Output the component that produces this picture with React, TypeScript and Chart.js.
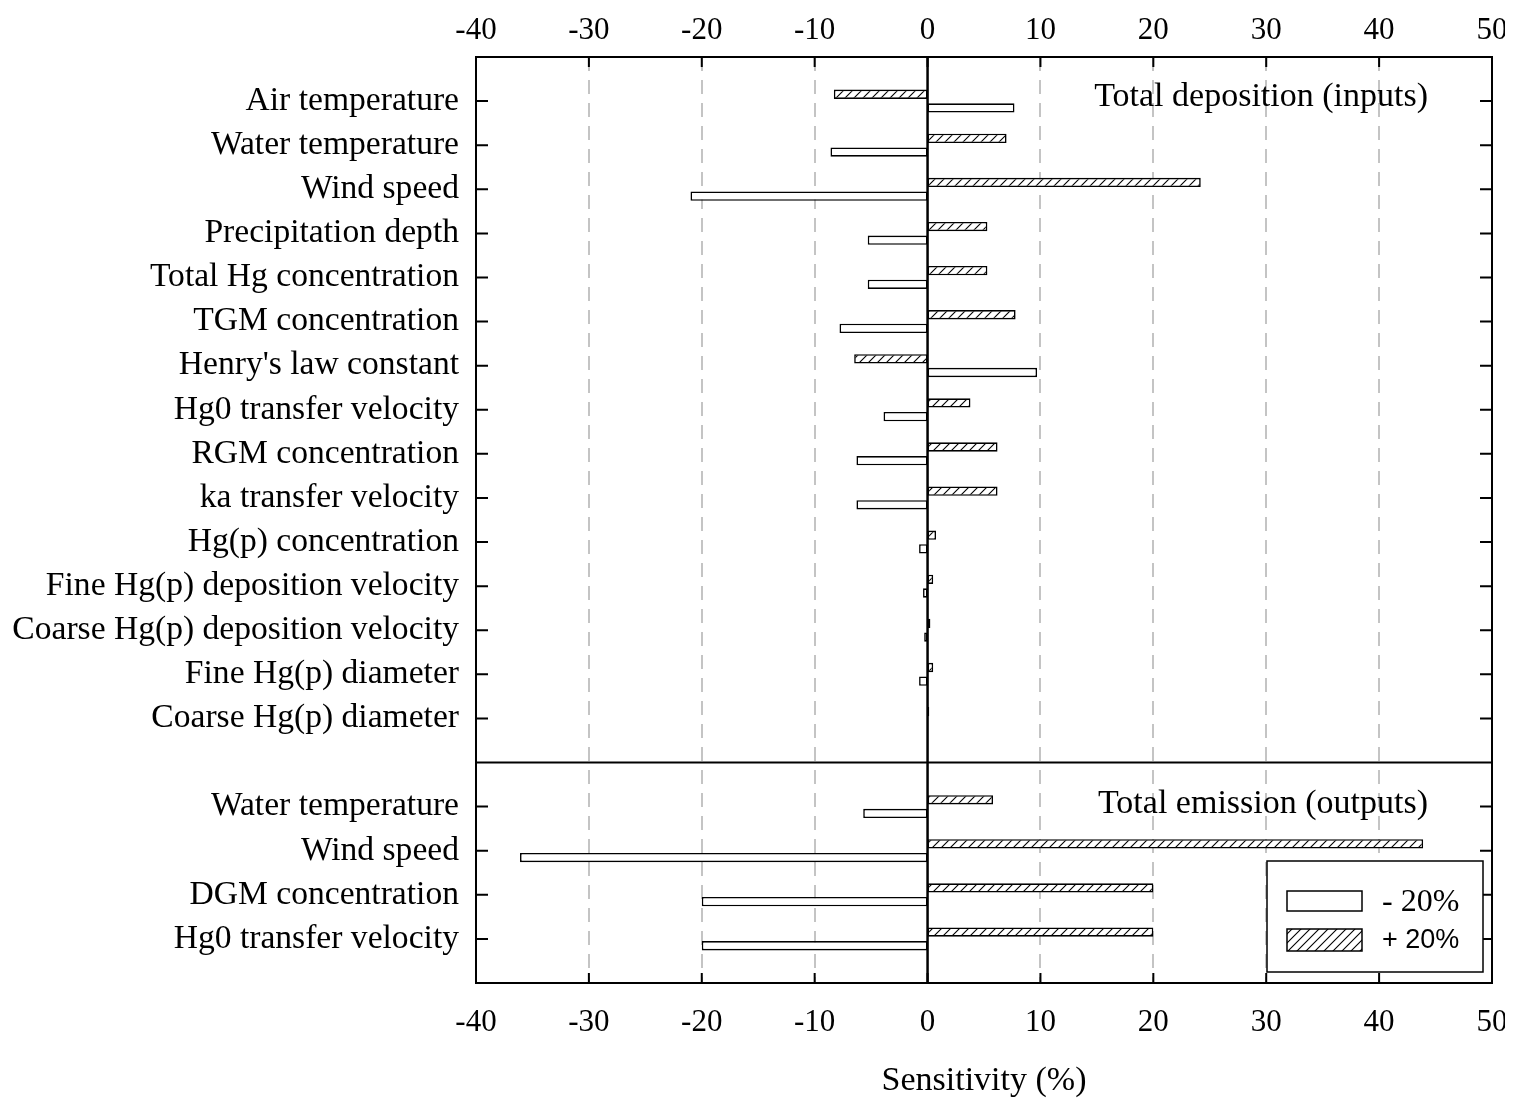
import React, { useEffect, useRef } from "react";
import { Chart, registerables } from "chart.js";

Chart.register(...registerables);

// ---- Data ----
const topCategories = [
  "Air temperature",
  "Water temperature",
  "Wind speed",
  "Precipitation depth",
  "Total Hg concentration",
  "TGM concentration",
  "Henry's law constant",
  "Hg0 transfer velocity",
  "RGM concentration",
  "ka transfer velocity",
  "Hg(p) concentration",
  "Fine Hg(p) deposition velocity",
  "Coarse Hg(p) deposition velocity",
  "Fine Hg(p) diameter",
  "Coarse Hg(p) diameter",
];
const topPlus20 = [-8.3, 7.0, 24.2, 5.3, 5.3, 7.8, -6.5, 3.8, 6.2, 6.2, 0.75, 0.5, 0.25, 0.5, 0.15];
const topMinus20 = [7.7, -8.6, -21.0, -5.3, -5.3, -7.8, 9.7, -3.9, -6.3, -6.3, -0.75, -0.4, -0.3, -0.75, 0];

const bottomCategories = ["Water temperature", "Wind speed", "DGM concentration", "Hg0 transfer velocity"];
const bottomPlus20 = [5.8, 43.9, 20.0, 20.0];
const bottomMinus20 = [-5.7, -36.1, -20.0, -20.0];

const xTicks = [-40, -30, -20, -10, 0, 10, 20, 30, 40, 50];
const panelTitles = ["Total deposition (inputs)", "Total emission (outputs)"];
const legendLabels = ["- 20%", "+ 20%"];
const xAxisTitle = "Sensitivity (%)";

// ---- Derived tables ----
const labels = ["", ...topCategories, "", ...bottomCategories, ""];
const plusData: (number | null)[] = [null, ...topPlus20, null, ...bottomPlus20, null];
const minusData: (number | null)[] = [null, ...topMinus20, null, ...bottomMinus20, null];
const dividerIndex = topCategories.length + 1;

const SERIF = "'Liberation Serif', 'Times New Roman', serif";
const SANS = "'Liberation Sans', Arial, sans-serif";

function makeHatch(): CanvasPattern | string {
  const n = 9;
  const c = document.createElement("canvas");
  c.width = n;
  c.height = n;
  const g = c.getContext("2d");
  if (!g) return "#fff";
  g.fillStyle = "#fff";
  g.fillRect(0, 0, n, n);
  g.strokeStyle = "#000";
  g.lineWidth = 1.1;
  g.beginPath();
  g.moveTo(0, n);
  g.lineTo(n, 0);
  g.moveTo(-2, 2);
  g.lineTo(2, -2);
  g.moveTo(n - 2, n + 2);
  g.lineTo(n + 2, n - 2);
  g.stroke();
  const p = g.createPattern(c, "repeat");
  return p || "#fff";
}

export default function App() {
  const ref = useRef<HTMLCanvasElement | null>(null);

  useEffect(() => {
    document.documentElement.style.overflow = "hidden";
    if (!ref.current) return;
    const hatch = makeHatch();

    const decor = {
      id: "decor",
      beforeDatasetsDraw(chart: any) {
        const { ctx, chartArea } = chart;
        const xs = chart.scales.x;
        ctx.save();
        ctx.strokeStyle = "#c4c4c4";
        ctx.lineWidth = 2;
        ctx.setLineDash([14, 9]);
        xTicks.forEach((v) => {
          if (v === xTicks[0] || v === xTicks[xTicks.length - 1] || v === 0) return;
          const px = Math.round(xs.getPixelForValue(v));
          ctx.beginPath();
          ctx.moveTo(px, chartArea.top);
          ctx.lineTo(px, chartArea.bottom);
          ctx.stroke();
        });
        ctx.restore();
      },
      afterDraw(chart: any) {
        const { ctx, chartArea } = chart;
        const xs = chart.scales.x;
        const ys = chart.scales.y;
        const { left, right, top, bottom } = chartArea;
        ctx.save();
        ctx.strokeStyle = "#000";
        ctx.setLineDash([]);
        // zero line
        const zx = xs.getPixelForValue(0);
        ctx.lineWidth = 2.5;
        ctx.beginPath();
        ctx.moveTo(zx, top);
        ctx.lineTo(zx, bottom);
        ctx.stroke();
        ctx.lineWidth = 2;
        // frame
        ctx.strokeRect(left, top, right - left, bottom - top);
        // divider
        const dy = ys.getPixelForValue(dividerIndex);
        ctx.beginPath();
        ctx.moveTo(left, dy);
        ctx.lineTo(right, dy);
        ctx.stroke();
        // inward x ticks and tick labels (top and bottom)
        const tl = 10;
        ctx.fillStyle = "#000";
        ctx.font = `31px ${SERIF}`;
        ctx.textAlign = "center";
        ctx.textBaseline = "alphabetic";
        xTicks.forEach((v) => {
          const px = xs.getPixelForValue(v);
          ctx.fillText(String(v), px, top - 18);
          ctx.fillText(String(v), px, bottom + 48);
          if (v === xTicks[0] || v === xTicks[xTicks.length - 1]) return;
          ctx.beginPath();
          ctx.moveTo(px, top);
          ctx.lineTo(px, top + tl);
          ctx.moveTo(px, bottom);
          ctx.lineTo(px, bottom - tl);
          ctx.stroke();
        });
        // inward y ticks
        labels.forEach((l, i) => {
          if (!l) return;
          const py = ys.getPixelForValue(i);
          ctx.beginPath();
          ctx.moveTo(left, py);
          ctx.lineTo(left + 12, py);
          ctx.moveTo(right, py);
          ctx.lineTo(right - 12, py);
          ctx.stroke();
        });
        // panel titles
        ctx.font = `34px ${SERIF}`;
        ctx.textAlign = "right";
        ctx.fillText(panelTitles[0], right - 64, top + 49);
        ctx.fillText(panelTitles[1], right - 64, dy + 50);
        // x axis title
        ctx.textAlign = "center";
        ctx.fillText(xAxisTitle, (left + right) / 2, bottom + 107);
        // legend
        const lbL = right - 225;
        const lbR = right - 9;
        const lbB = bottom - 11;
        const lbT = lbB - 111;
        ctx.fillStyle = "#fff";
        ctx.fillRect(lbL, lbT, lbR - lbL, lbB - lbT);
        ctx.lineWidth = 1.5;
        ctx.strokeRect(lbL, lbT, lbR - lbL, lbB - lbT);
        const sx = lbL + 20;
        const sw = 75;
        ctx.fillStyle = "#fff";
        ctx.fillRect(sx, lbT + 30, sw, 20);
        ctx.strokeRect(sx, lbT + 30, sw, 20);
        ctx.fillStyle = hatch as any;
        ctx.fillRect(sx, lbT + 68, sw, 22);
        ctx.strokeRect(sx, lbT + 68, sw, 22);
        ctx.fillStyle = "#000";
        ctx.textAlign = "left";
        ctx.font = `32px ${SERIF}`;
        ctx.fillText(legendLabels[0], sx + 95, lbT + 50);
        ctx.font = `27px ${SANS}`;
        ctx.fillText(legendLabels[1], sx + 95, lbT + 87);
        ctx.restore();
      },
    };

    const barCommon = {
      borderColor: "#000",
      borderWidth: 1.6,
      borderSkipped: false,
      categoryPercentage: 0.62,
      barPercentage: 0.68,
    };

    const chart = new Chart(ref.current, {
      type: "bar",
      data: {
        labels,
        datasets: [
          { label: legendLabels[1], data: plusData, backgroundColor: hatch as any, ...barCommon },
          { label: legendLabels[0], data: minusData, backgroundColor: "#fff", ...barCommon },
        ],
      },
      options: {
        indexAxis: "y",
        animation: false,
        responsive: true,
        maintainAspectRatio: false,
        layout: { padding: { left: 0, right: 21, top: 0, bottom: 0 } },
        plugins: { legend: { display: false }, tooltip: { enabled: false } },
        scales: {
          x: {
            type: "linear",
            position: "bottom",
            min: -40,
            max: 50,
            afterBuildTicks: (s: any) => {
              s.ticks = xTicks.map((v) => ({ value: v }));
            },
            ticks: { display: false },
            grid: { display: false, drawTicks: false },
            border: { display: false },
            afterFit: (s: any) => {
              s.height = 119;
              s.paddingLeft = 0;
              s.paddingRight = 0;
            },
          },
          x2: {
            type: "linear",
            position: "top",
            min: -40,
            max: 50,
            ticks: { display: false },
            grid: { display: false, drawTicks: false },
            border: { display: false },
            afterFit: (s: any) => {
              s.height = 49;
              s.paddingLeft = 0;
              s.paddingRight = 0;
            },
          },
          y: {
            type: "category",
            offset: false,
            ticks: {
              color: "#000",
              font: { family: SERIF, size: 33.6 },
              padding: 17,
              autoSkip: false,
            },
            grid: { display: false, drawTicks: false },
            border: { display: false },
            afterFit: (s: any) => {
              s.width = 468;
              s.paddingTop = 0;
              s.paddingBottom = 0;
            },
          },
        },
      } as any,
      plugins: [decor],
    });

    return () => chart.destroy();
  }, []);

  return (
    <div style={{ position: "relative", width: 1505, height: 1094 }}>
      <canvas ref={ref} />
    </div>
  );
}
